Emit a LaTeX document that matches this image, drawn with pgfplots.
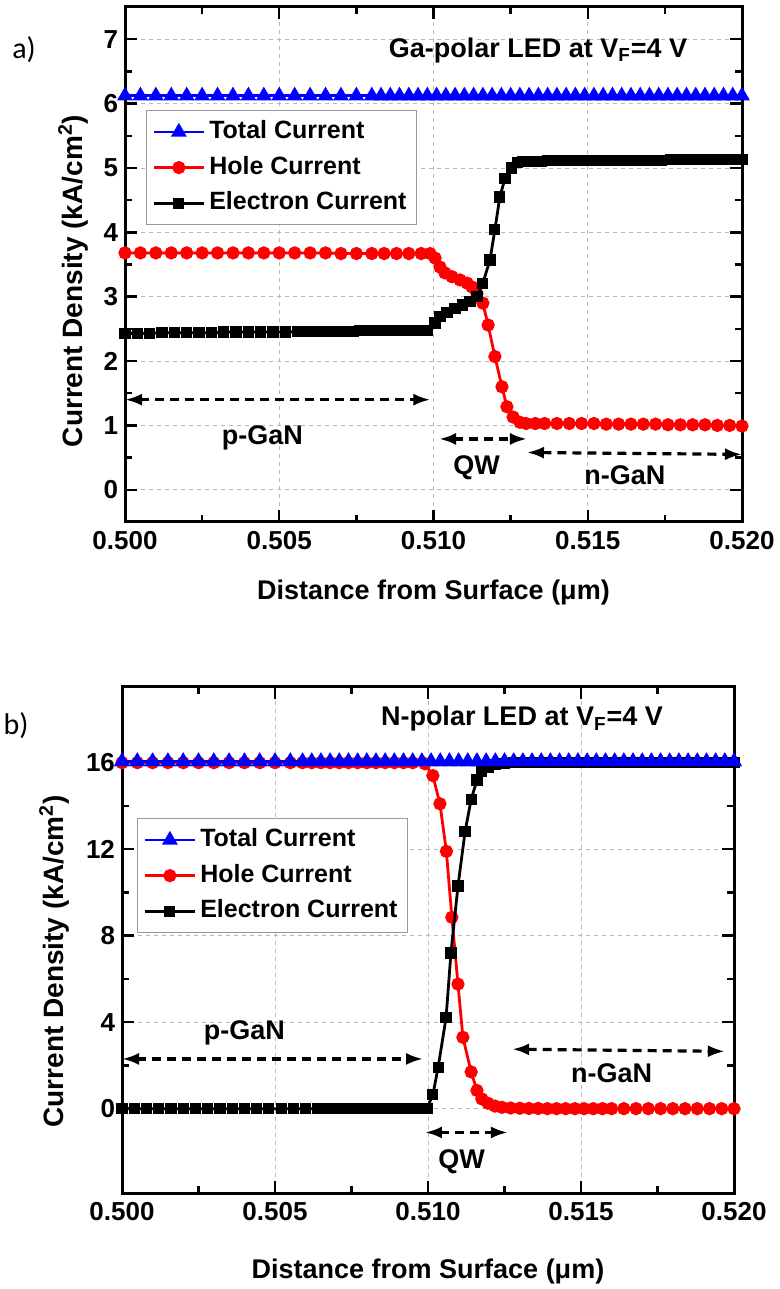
\documentclass[border=0pt]{standalone}
\usepackage{pgfplots}
\pgfplotsset{compat=1.18}
\usepackage{fontspec}
\setmainfont{Liberation Sans}
\newfontfamily\labfont{Carlito}
\usetikzlibrary{arrows.meta}
\definecolor{myblue}{RGB}{0,0,255}
\definecolor{myred}{RGB}{255,0,0}
\pgfplotsset{
  common/.style={
    scale only axis,
    clip mode=individual,
    xmin=0.5, xmax=0.52,
    xtick={0.5,0.505,0.51,0.515,0.52},
    scaled x ticks=false,
    minor x tick num=1,
    minor y tick num=1,
    tick align=inside,
    major tick length=6bp, minor tick length=3.5bp,
    every tick/.style={black, line width=1.2bp},
    axis line style={line width=1.5bp},
    grid=major,
    major grid style={gray!55, line width=0.4bp, dash pattern=on 2bp off 2bp},
    /pgf/number format/assume math mode=true,
    x tick label style={/pgf/number format/fixed, /pgf/number format/fixed zerofill, /pgf/number format/precision=3, yshift=-1bp},
    tick label style={font=\bfseries\fontsize{13bp}{15bp}\selectfont},
    legend cell align=left,
    legend image code/.code={\draw[mark repeat=2,mark phase=2,##1] plot coordinates {(0bp,0bp) (12.5bp,0bp) (25bp,0bp)};},
    legend style={draw=gray!80, line width=0.5bp, fill=white, anchor=north west,
      font=\bfseries\fontsize{12.5bp}{14bp}\selectfont,
      inner xsep=3bp, inner ysep=3bp, row sep=2.3bp,
      nodes={inner sep=2bp, text height=9bp, text depth=2.5bp}},
  },
  tot/.style={myblue, line width=1.4bp, mark=triangle*, mark size=3.2bp, mark options={solid, fill=myblue}},
  hol/.style={myred, line width=1.4bp, mark=*, mark size=2.6bp, mark options={solid, fill=myred}},
  ele/.style={black, line width=1.4bp, mark=square*, mark size=2.1bp, mark options={solid, fill=black}},
}
\tikzset{dar/.style={line width=1.6bp, dash pattern=on 4.5bp off 3bp, {Latex[length=8.5bp,width=6bp]}-{Latex[length=8.5bp,width=6bp]}},
  ann/.style={font=\bfseries\fontsize{13.5bp}{16bp}\selectfont}}
\begin{document}
\begin{tikzpicture}
\useasboundingbox (0,0) rectangle (390bp,644.5bp);
\node[font=\labfont\fontsize{15bp}{17bp}\selectfont] at (12bp,619.5bp) {a)};
\node[font=\labfont\fontsize{15bp}{17bp}\selectfont] at (8bp,281.5bp) {b)};
% ---------------- panel a
\begin{axis}[common,
  at={(62.5bp,383.5bp)}, anchor=south west,
  width=308.5bp, height=257.5bp,
  ymin=-0.5, ymax=7.5, ytick={0,1,2,3,4,5,6,7},
  xlabel={Distance from Surface (μm)},
  ylabel={Current Density (kA/cm\textsuperscript{2})},
  every axis x label/.style={at={(axis description cs:0.5,-0.136)}, anchor=center, font=\bfseries\fontsize{13.5bp}{16bp}\selectfont},
  every axis y label/.style={at={(axis description cs:-0.084,0.468)}, rotate=90, anchor=center, font=\bfseries\fontsize{14bp}{16bp}\selectfont},
  legend style={at={(axis description cs:0.034,0.80)}},
]
\addplot[tot] coordinates {(0.5000,6.12)(0.5005,6.12)(0.5010,6.12)(0.5015,6.12)(0.5020,6.12)(0.5025,6.12)(0.5030,6.12)(0.5035,6.12)(0.5040,6.12)(0.5045,6.12)(0.5050,6.12)(0.5055,6.12)(0.5060,6.12)(0.5065,6.12)(0.5070,6.12)(0.5075,6.12)(0.5080,6.12)(0.5083,6.12)(0.5086,6.12)(0.5089,6.12)(0.5092,6.12)(0.5095,6.12)(0.5098,6.12)(0.5101,6.12)(0.5104,6.12)(0.5107,6.12)(0.5110,6.12)(0.5113,6.12)(0.5116,6.12)(0.5119,6.12)(0.5122,6.12)(0.5125,6.12)(0.5128,6.12)(0.5131,6.12)(0.5134,6.12)(0.5137,6.12)(0.5140,6.12)(0.5143,6.12)(0.5146,6.12)(0.5149,6.12)(0.5152,6.12)(0.5155,6.12)(0.5158,6.12)(0.5161,6.12)(0.5164,6.12)(0.5167,6.12)(0.5170,6.12)(0.5173,6.12)(0.5176,6.12)(0.5179,6.12)(0.5182,6.12)(0.5185,6.12)(0.5188,6.12)(0.5191,6.12)(0.5194,6.12)(0.5197,6.12)(0.5200,6.12)};
\addlegendentry{Total Current}
\addplot[hol] coordinates {(0.5000,3.68)(0.5005,3.68)(0.5010,3.68)(0.5015,3.68)(0.5020,3.68)(0.5025,3.68)(0.5030,3.68)(0.5035,3.68)(0.5040,3.68)(0.5045,3.68)(0.5050,3.68)(0.5055,3.68)(0.5060,3.68)(0.5065,3.68)(0.5070,3.67)(0.5075,3.67)(0.5080,3.67)(0.5084,3.67)(0.5088,3.67)(0.5092,3.67)(0.5096,3.67)(0.50989,3.67)(0.51005,3.60)(0.51021,3.46)(0.51037,3.37)(0.51060,3.31)(0.51086,3.26)(0.51109,3.21)(0.51125,3.15)(0.51141,3.05)(0.51160,2.90)(0.51177,2.56)(0.51199,2.07)(0.51222,1.60)(0.51238,1.29)(0.51258,1.13)(0.51280,1.05)(0.5130,1.03)(0.5133,1.03)(0.5136,1.03)(0.5140,1.03)(0.5144,1.03)(0.5148,1.03)(0.5152,1.03)(0.5156,1.02)(0.5160,1.02)(0.5164,1.02)(0.5168,1.02)(0.5172,1.02)(0.5176,1.01)(0.5180,1.01)(0.5184,1.01)(0.5188,1.01)(0.5192,1.00)(0.5196,1.00)(0.5200,0.99)};
\addlegendentry{Hole Current}
\addplot[ele] coordinates {(0.5000,2.43)(0.5004,2.43)(0.5008,2.43)(0.5012,2.44)(0.5016,2.44)(0.5020,2.44)(0.5024,2.44)(0.5028,2.44)(0.5032,2.45)(0.5036,2.45)(0.5040,2.45)(0.5044,2.45)(0.5048,2.45)(0.5052,2.45)(0.5056,2.46)(0.5058,2.46)(0.5060,2.46)(0.5062,2.46)(0.5064,2.46)(0.5066,2.46)(0.5068,2.46)(0.5070,2.46)(0.5072,2.46)(0.5074,2.46)(0.5076,2.47)(0.5078,2.47)(0.5080,2.47)(0.5082,2.47)(0.5084,2.47)(0.5086,2.47)(0.5088,2.47)(0.5090,2.47)(0.5092,2.47)(0.5094,2.47)(0.5096,2.47)(0.5098,2.48)(0.51005,2.59)(0.51021,2.69)(0.51044,2.76)(0.51070,2.82)(0.51093,2.87)(0.51118,2.92)(0.51141,3.00)(0.51160,3.21)(0.51183,3.57)(0.51199,4.04)(0.51215,4.55)(0.51232,4.84)(0.51254,5.00)(0.51271,5.08)(0.51290,5.10)(0.5131,5.10)(0.5133,5.10)(0.5135,5.10)(0.5137,5.11)(0.5139,5.11)(0.5141,5.11)(0.5143,5.11)(0.5145,5.11)(0.5147,5.11)(0.5149,5.11)(0.5151,5.11)(0.5153,5.11)(0.5155,5.11)(0.5157,5.12)(0.5159,5.12)(0.5161,5.12)(0.5163,5.12)(0.5165,5.12)(0.5168,5.12)(0.5171,5.12)(0.5174,5.12)(0.5177,5.13)(0.5180,5.13)(0.5183,5.13)(0.5186,5.13)(0.5189,5.13)(0.5192,5.13)(0.5195,5.13)(0.5198,5.13)(0.5200,5.13)};
\addlegendentry{Electron Current}
\node[ann] at (axis cs:0.51339,6.83) {Ga-polar LED at V\textsubscript{F}=4 V};
\draw[dar] (axis cs:0.5000,1.40) -- (axis cs:0.5099,1.40);
\draw[dar] (axis cs:0.51018,0.79) -- (axis cs:0.51303,0.79);
\draw[dar] (axis cs:0.51303,0.58) -- (axis cs:0.5200,0.55);
\node[ann] at (axis cs:0.50445,0.80) {p-GaN};
\node[ann] at (axis cs:0.5114,0.34) {QW};
\node[ann] at (axis cs:0.5162,0.23) {n-GaN};
\end{axis}
% ---------------- panel b
\begin{axis}[common,
  at={(61bp,48bp)}, anchor=south west,
  width=306bp, height=253bp,
  ymin=-3.9, ymax=19.5, ytick={0,4,8,12,16},
  xlabel={Distance from Surface (μm)},
  ylabel={Current Density (kA/cm\textsuperscript{2})},
  every axis x label/.style={at={(axis description cs:0.5,-0.156)}, anchor=center, font=\bfseries\fontsize{13.5bp}{16bp}\selectfont},
  every axis y label/.style={at={(axis description cs:-0.111,0.458)}, rotate=90, anchor=center, font=\bfseries\fontsize{14bp}{16bp}\selectfont},
  legend style={at={(axis description cs:0.0245,0.741)}},
]
\addplot[tot] coordinates {(0.5000,16.05)(0.5005,16.05)(0.5010,16.05)(0.5015,16.05)(0.5020,16.05)(0.5025,16.05)(0.5030,16.05)(0.5035,16.05)(0.5040,16.05)(0.5045,16.05)(0.5050,16.05)(0.5055,16.05)(0.5059,16.05)(0.5062,16.05)(0.5065,16.05)(0.5068,16.05)(0.5071,16.05)(0.5074,16.05)(0.5077,16.05)(0.5080,16.05)(0.5083,16.05)(0.5086,16.05)(0.5089,16.05)(0.5092,16.05)(0.5095,16.05)(0.5098,16.05)(0.5101,16.05)(0.5104,16.05)(0.5107,16.05)(0.5110,16.05)(0.5113,16.05)(0.5116,16.05)(0.5119,16.05)(0.5122,16.05)(0.5125,16.05)(0.5128,16.05)(0.5131,16.05)(0.5134,16.05)(0.5137,16.05)(0.5140,16.05)(0.5143,16.05)(0.5146,16.05)(0.5149,16.05)(0.5152,16.05)(0.5155,16.05)(0.5158,16.05)(0.5161,16.05)(0.5164,16.05)(0.5167,16.05)(0.5170,16.05)(0.5173,16.05)(0.5176,16.05)(0.5179,16.05)(0.5182,16.05)(0.5185,16.05)(0.5188,16.05)(0.5191,16.05)(0.5194,16.05)(0.5197,16.05)(0.5200,16.05)};
\addlegendentry{Total Current}
\addplot[hol] coordinates {(0.5000,16.0)(0.5005,16.0)(0.5010,16.0)(0.5015,16.0)(0.5020,16.0)(0.5025,16.0)(0.5030,16.0)(0.5035,16.0)(0.5040,16.0)(0.5045,16.0)(0.5050,16.0)(0.5055,16.0)(0.5059,16.0)(0.5062,16.0)(0.5065,16.0)(0.5068,16.0)(0.5071,16.0)(0.5074,16.0)(0.5077,16.0)(0.5080,16.0)(0.5083,16.0)(0.5086,16.0)(0.5089,16.0)(0.5092,16.0)(0.5095,16.0)(0.50990,15.95)(0.51016,15.4)(0.51039,14.1)(0.51060,11.9)(0.51078,8.85)(0.51098,5.76)(0.51114,3.3)(0.51141,1.7)(0.51160,0.84)(0.51176,0.45)(0.51196,0.25)(0.51219,0.12)(0.51242,0.06)(0.5127,0.03)(0.5130,0.02)(0.5133,0.01)(0.5136,0.01)(0.5139,0.0)(0.5142,0.0)(0.5145,0.0)(0.5148,0.0)(0.5151,0.0)(0.5154,0.0)(0.5157,0.0)(0.5160,0.0)(0.5164,0.0)(0.5168,0.0)(0.5172,0.0)(0.5176,0.0)(0.5180,0.0)(0.5184,0.0)(0.5188,0.0)(0.5192,0.0)(0.5196,0.0)(0.5200,0.0)};
\addlegendentry{Hole Current}
\addplot[ele] coordinates {(0.5000,0.0)(0.5004,0.0)(0.5008,0.0)(0.5012,0.0)(0.5016,0.0)(0.5020,0.0)(0.5024,0.0)(0.5028,0.0)(0.5032,0.0)(0.5036,0.0)(0.5040,0.0)(0.5044,0.0)(0.5048,0.0)(0.5052,0.0)(0.5056,0.0)(0.5060,0.0)(0.5064,0.0)(0.5066,0.0)(0.5068,0.0)(0.5070,0.0)(0.5072,0.0)(0.5074,0.0)(0.5076,0.0)(0.5078,0.0)(0.5080,0.0)(0.5082,0.0)(0.5084,0.0)(0.5086,0.0)(0.5088,0.0)(0.5090,0.0)(0.5092,0.0)(0.5094,0.0)(0.5096,0.0)(0.50997,0.02)(0.51016,0.65)(0.51033,1.9)(0.51059,4.2)(0.51075,7.2)(0.51098,10.3)(0.51121,12.8)(0.51141,14.3)(0.51160,15.2)(0.51176,15.6)(0.51196,15.8)(0.51219,15.9)(0.51250,15.97)(0.5128,16.0)(0.5131,16.0)(0.5134,16.0)(0.5137,16.0)(0.5140,16.0)(0.5143,16.0)(0.5146,16.0)(0.5149,16.0)(0.5152,16.0)(0.5155,16.0)(0.5158,16.0)(0.5161,16.0)(0.5164,16.0)(0.5167,16.0)(0.5170,16.0)(0.5173,16.0)(0.5176,16.0)(0.5179,16.0)(0.5182,16.0)(0.5185,16.0)(0.5188,16.0)(0.5191,16.0)(0.5194,16.0)(0.5197,16.0)(0.5200,16.0)};
\addlegendentry{Electron Current}
\addplot[tot, forget plot] coordinates {(0.5000,16.05)(0.5005,16.05)(0.5010,16.05)(0.5015,16.05)(0.5020,16.05)(0.5025,16.05)(0.5030,16.05)(0.5035,16.05)(0.5040,16.05)(0.5045,16.05)(0.5050,16.05)(0.5055,16.05)(0.5059,16.05)(0.5062,16.05)(0.5065,16.05)(0.5068,16.05)(0.5071,16.05)(0.5074,16.05)(0.5077,16.05)(0.5080,16.05)(0.5083,16.05)(0.5086,16.05)(0.5089,16.05)(0.5092,16.05)(0.5095,16.05)(0.5098,16.05)(0.5101,16.05)(0.5104,16.05)(0.5107,16.05)(0.5110,16.05)(0.5113,16.05)(0.5116,16.05)(0.5119,16.05)(0.5122,16.05)(0.5125,16.05)(0.5128,16.05)(0.5131,16.05)(0.5134,16.05)(0.5137,16.05)(0.5140,16.05)(0.5143,16.05)(0.5146,16.05)(0.5149,16.05)(0.5152,16.05)(0.5155,16.05)(0.5158,16.05)(0.5161,16.05)(0.5164,16.05)(0.5167,16.05)(0.5170,16.05)(0.5173,16.05)(0.5176,16.05)(0.5179,16.05)(0.5182,16.05)(0.5185,16.05)(0.5188,16.05)(0.5191,16.05)(0.5194,16.05)(0.5197,16.05)(0.5200,16.05)};
\node[ann] at (axis cs:0.51307,18.03) {N-polar LED at V\textsubscript{F}=4 V};
\draw[dar] (axis cs:0.5000,2.3) -- (axis cs:0.50984,2.3);
\draw[dar] (axis cs:0.5099,-1.1) -- (axis cs:0.51261,-1.1);
\draw[dar] (axis cs:0.51275,2.75) -- (axis cs:0.5197,2.65);
\node[ann] at (axis cs:0.5040,3.5) {p-GaN};
\node[ann] at (axis cs:0.5111,-2.45) {QW};
\node[ann] at (axis cs:0.5160,1.65) {n-GaN};
\end{axis}
\end{tikzpicture}
\end{document}
